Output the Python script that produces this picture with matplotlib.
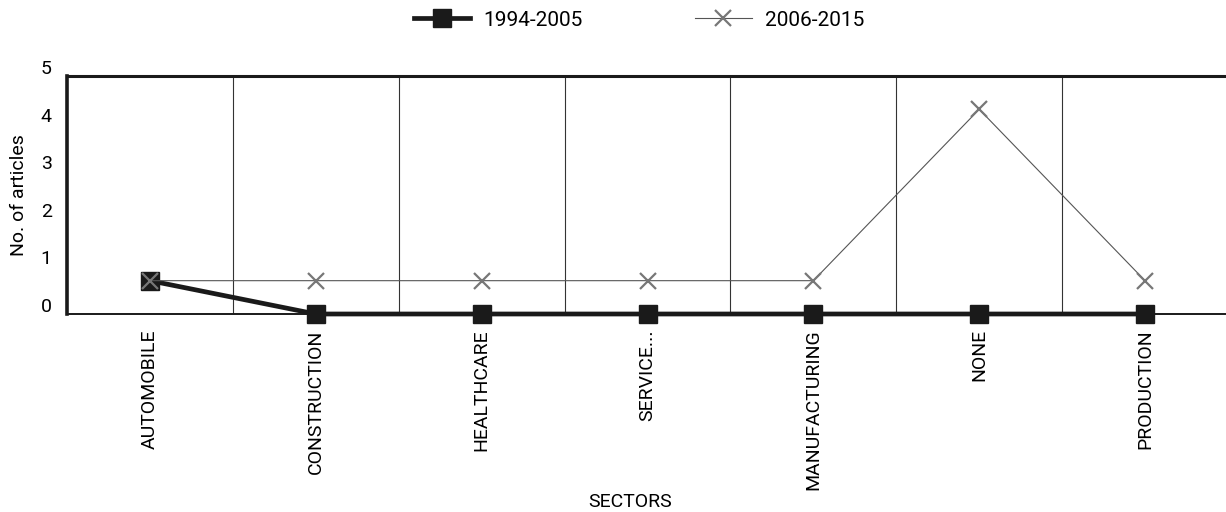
import numpy as np
import matplotlib
matplotlib.use("Agg")
import matplotlib.pyplot as plt
from matplotlib.transforms import ScaledTranslation
from matplotlib.lines import Line2D

plt.rcParams['font.family'] = ['Roboto', 'DejaVu Sans']

categories = ["AUTOMOBILE", "CONSTRUCTION", "HEALTHCARE", "SERVICE...",
              "MANUFACTURING", "NONE", "PRODUCTION"]
series_a_name = "1994-2005"
series_a = [0.7, 0, 0, 0, 0, 0, 0]
series_b_name = "2006-2015"
series_b = [0.7, 0.7, 0.7, 0.7, 0.7, 4.3, 0.7]
y_ticks = [0, 1, 2, 3, 4, 5]

W, H, DPI = 1226, 512, 100
FS = 14
fig = plt.figure(figsize=(W / DPI, H / DPI), dpi=DPI)
ax = fig.add_axes([67 / W, 1 - 314 / H, (1228 - 67) / W, (314 - 76) / H])

x = np.arange(len(categories))
ax.plot(x, series_a, color='#1a1a1a', lw=3.4, marker='s', ms=13,
        mfc='#1a1a1a', mec='#1a1a1a', zorder=3, clip_on=False,
        solid_joinstyle='miter')
ax.plot(x, series_b, color='#555555', lw=0.8, marker='x', ms=11,
        mec='#777777', mew=1.6, zorder=4, clip_on=False)

ax.set_xlim(-0.5, 6.5)
ax.set_ylim(0, 5)
ax.set_yticks(y_ticks)
ax.set_yticklabels([str(v) for v in y_ticks], fontsize=FS)
ax.set_xticks(x)
ax.set_xticklabels(categories, rotation=90, fontsize=14, va='top')
ax.set_xticks(np.arange(0.5, len(categories) - 1, 1), minor=True)
ax.grid(which='minor', axis='x', color='#333333', lw=0.8)
ax.tick_params(axis='both', which='both', length=0)
ax.tick_params(axis='y', pad=11)
ax.tick_params(axis='x', pad=11)

offset = ScaledTranslation(0, 0.09, fig.dpi_scale_trans)
for lab in ax.get_yticklabels():
    lab.set_transform(lab.get_transform() + offset)

ax.spines['left'].set_linewidth(2.6)
ax.spines['top'].set_linewidth(2.2)
ax.spines['bottom'].set_linewidth(1.4)
ax.spines['right'].set_visible(False)
for s in ax.spines.values():
    s.set_color('#1a1a1a')

ax.set_ylabel("No. of articles", fontsize=FS)
ax.yaxis.set_label_coords(-(67 - 28) / 1161, 0.5)
fig.text(630 / W, 1 - 502 / H, "SECTORS", ha='center', va='center', fontsize=14)

handles = [
    Line2D([], [], color='#1a1a1a', lw=3.4, marker='s', ms=13, mfc='#1a1a1a', mec='#1a1a1a'),
    Line2D([], [], color='#555555', lw=0.8, marker='x', ms=11, mec='#777777', mew=1.6),
]
fig.legend(handles, [series_a_name, series_b_name], loc='center',
           bbox_to_anchor=(639 / W, 1 - 20 / H), ncol=2, frameon=False,
           fontsize=15, handlelength=2.7, columnspacing=5.4, handletextpad=0.65)

fig.savefig("out.png", dpi=DPI)
